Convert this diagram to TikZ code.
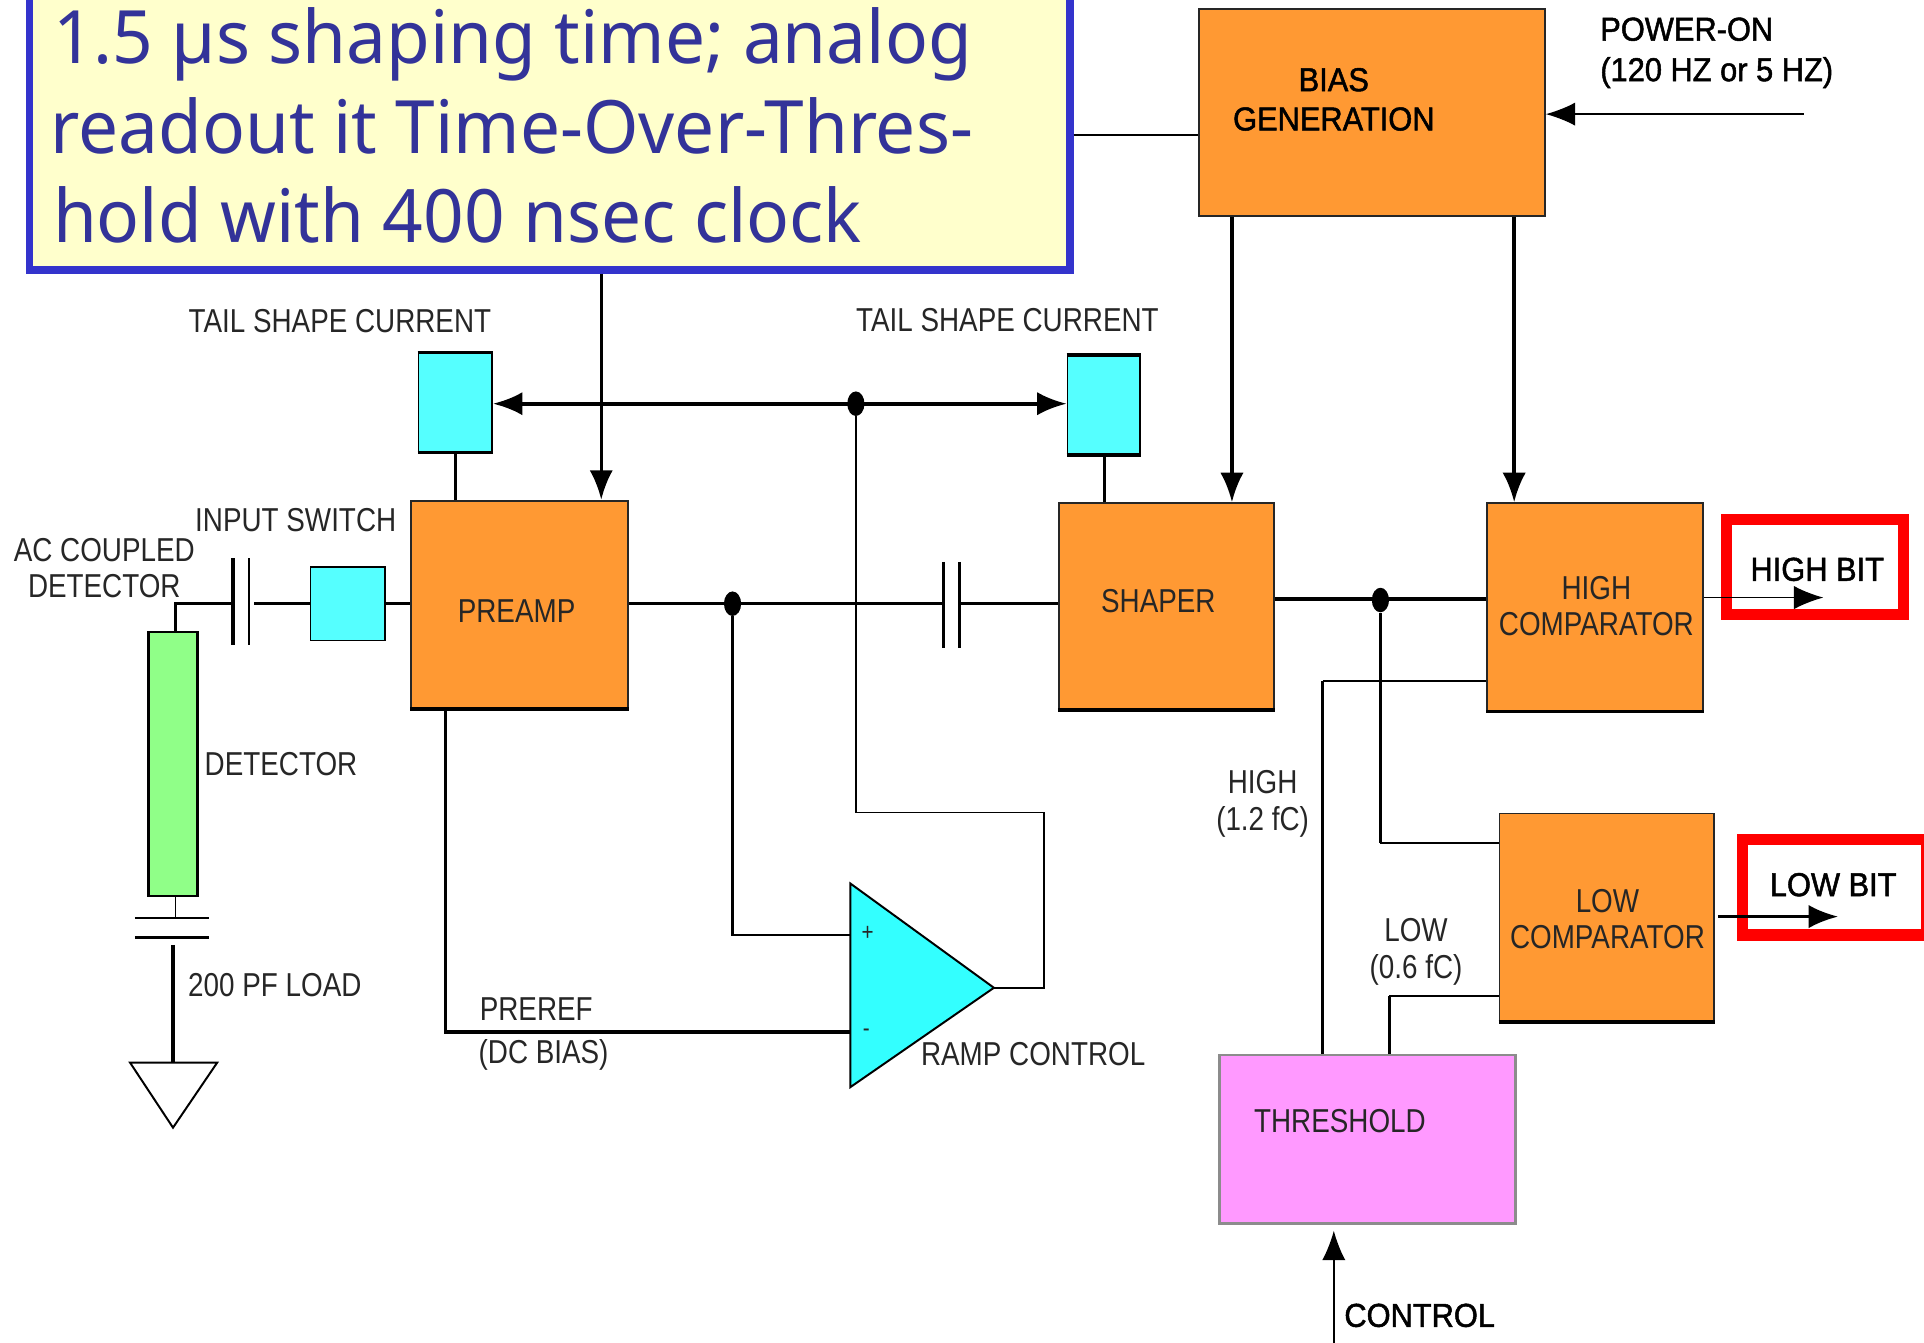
\documentclass[tikz,border=0pt]{standalone}
\usepackage{fontspec}
\usetikzlibrary{arrows.meta,shapes.geometric}
\setmainfont{Liberation Sans}
\newfontfamily\diafont[FakeStretch=0.84]{Liberation Sans}
\newfontfamily\diabold[FakeStretch=0.93,FakeBold=1.5]{Liberation Sans}
\newfontfamily\callfont[FakeStretch=0.966]{Noto Sans}
\definecolor{orangebox}{HTML}{FF9933}
\definecolor{cyanbox}{HTML}{55FFFF}
\definecolor{greenbox}{HTML}{90FF88}
\definecolor{pinkbox}{HTML}{FF99FF}
\definecolor{calloutfill}{HTML}{FFFFCC}
\definecolor{calloutline}{HTML}{3333CC}
\definecolor{callouttext}{HTML}{333399}
\definecolor{ampfill}{HTML}{33FFFF}
\tikzset{
  x=1pt,y=-1pt,
  block/.style={draw=black!85,line width=1.5pt,fill=orangebox,inner sep=0pt},
  small/.style={draw=black,line width=1.5pt,fill=cyanbox,inner sep=0pt},
  lab/.style={font=\diafont\fontsize{27}{30}\selectfont,text=black!85,align=center,inner sep=0pt},
  blab/.style={font=\diabold\fontsize{27}{30}\selectfont,text=black,align=center,inner sep=0pt},
  calltext/.style={anchor=base west,inner sep=0pt,font=\callfont\fontsize{60}{73}\selectfont,text=callouttext},
  thin wire/.style={draw=black,line width=1.3pt},
  wire/.style={draw=black,line width=2.8pt},
  bus/.style={draw=black,line width=3.2pt},
  heavy edge/.style={draw=black,line width=2.8pt},
  tip/.style={-{Latex[length=24pt,width=19pt]}},
  tips/.style={{Latex[length=24pt,width=19pt]}-{Latex[length=24pt,width=19pt]}},
  redbox/.style={draw=red,line width=9pt,fill=none,inner sep=0pt},
  joint/.style={ellipse,fill=black,minimum width=14pt,minimum height=20pt,inner sep=0pt},
}
\newcommand{\boxat}[7]{\node[#1,minimum width=#5pt-#3pt,minimum height=#6pt-#4pt,anchor=center] (#2) at ({(#3+#5)/2},{(#4+#6)/2}) {#7};}
\begin{document}
\begin{tikzpicture}
\useasboundingbox (0,0) rectangle (1568,1094.5);
% blocks
\boxat{block}{bias}{977}{7}{1259}{176}{}
\boxat{block}{preamp}{335}{408}{512}{577}{}
\boxat{block}{shaper}{863}{410}{1038}{578}{}
\boxat{block}{high}{1212}{410}{1388}{579}{}
\boxat{block}{low}{1222}{663}{1397}{832}{}
\boxat{block,draw=black!45,line width=2pt,fill=pinkbox}{thresh}{994}{860}{1235}{997}{}
\boxat{small}{tailL}{341}{288}{401}{368}{}
\boxat{small}{tailR}{870}{290}{929}{370}{}
\boxat{small}{switch}{253}{462}{314}{522}{}
\boxat{small,fill=greenbox,line width=2pt}{det}{121}{515}{161}{730}{}
\draw[heavy edge] (preamp.south west) -- (preamp.south east);
\draw[heavy edge] (shaper.south west) -- (shaper.south east);
\draw[heavy edge] (high.south west) -- (high.south east);
\draw[heavy edge] (low.south west) -- (low.south east);
\draw[heavy edge] (tailL.north west) -- (tailL.north east);
\draw[heavy edge] (tailL.south west) -- (tailL.south east);
\draw[heavy edge] (tailR.north west) -- (tailR.north east);
\draw[heavy edge] (tailR.south west) -- (tailR.south east);
% callout
\boxat{draw=calloutline,line width=6pt,fill=calloutfill,inner sep=0pt}{callout}{24}{-20}{872}{220}{}
\node[calltext] (callA) at (43,52) {1.5 µs shaping time; analog};
\node[calltext] (callB) at (41,125) {readout it Time-Over-Thres-};
\node[calltext] (callC) at (43,198) {hold with 400 nsec clock};
% red boxes
\boxat{redbox}{hibit}{1407}{423}{1551}{501}{}
\boxat{redbox}{lobit}{1420}{684}{1570}{762}{}
% helper coordinates
\coordinate (x490) at (490,0);
\coordinate (x1004) at (1004,0);
\coordinate (x1234) at (1234,0);
\coordinate (pwr) at (1470,93);
\coordinate (yb) at (0,110);
\coordinate (x371) at (371,0);
\coordinate (x900) at (900,0);
\coordinate (bus) at (0,329);
\node[joint] (jbus) at (697.5,329) {};
\node[joint] (jpre) at (597,492) {};
\node[joint] (jsh) at (1125,489) {};
% amplifier
\coordinate (ampa) at (693,720);
\coordinate (ampb) at (693,886);
\coordinate (ampout) at (810,805);
\coordinate (ampp) at (693,762);
\coordinate (ampm) at (693,841);
\draw[thin wire,line width=1.6pt,fill=ampfill] (ampa) -- (ampout) -- (ampb) -- cycle;
% wires from bias
\draw[thin wire] (callout.east |- yb) -- (bias.west |- yb);
\draw[thin wire,tip] (pwr) -- (bias.east |- pwr);
\draw[wire,tip] (bias.south -| x1004) -- (shaper.north -| x1004);
\draw[wire,tip] (bias.south -| x1234) -- (high.north -| x1234);
\draw[wire,tip] (callout.south -| x490) -- (preamp.north -| x490);
\draw[bus,tips] (tailL.east |- bus) -- (tailR.west |- bus);
\draw[wire] (tailL.south -| x371) -- (preamp.north -| x371);
\draw[wire] (tailR.south -| x900) -- (shaper.north -| x900);
\coordinate (fb) at (851,662);
\draw[thin wire] (jbus) -- (697.5,662) -- (fb) -- (851,805) -- (ampout);
% input
\coordinate (capa) at (190,492);
\coordinate (capb) at (207,492);
\draw[wire] (143,515) -- (143,492) -- (capa);
\draw[wire] (capb) -- (switch.west);
\draw[line width=3pt] (190,455) -- (190,526);
\draw[line width=1.5pt] (203,455) -- (203,526);
\draw[wire] (switch.east) -- (preamp.west |- switch.east);
% preamp to shaper
\coordinate (capc) at (769,492);
\coordinate (capd) at (782,492);
\draw[wire] (preamp.east |- capc) -- (capc);
\draw[line width=3pt] (769,458) -- (769,528);
\draw[line width=2pt] (782,458) -- (782,528);
\draw[wire] (capd) -- (shaper.west |- capd);
\draw[thin wire,line width=1.8pt] (jpre) -- (597,762) -- (ampp);
\draw[wire] (preamp.south -| 363,0) -- (363,841) -- (ampm);
% shaper out
\draw[wire] (shaper.east |- 0,488) -- (high.west |- 0,488);
\draw[wire,line width=2.2pt] (jsh) -- (1125,687);
\draw[thin wire,line width=1.6pt] (1125,687) -- (low.west |- 0,687);
\draw[wire,line width=2.4pt] (thresh.north -| 1078,0) -- (1078,555);
\draw[thin wire,line width=1.6pt] (1078,555) -- (high.west |- 0,555);
\draw[wire,line width=2.4pt] (thresh.north -| 1132,0) -- (1132,812);
\draw[thin wire,line width=1.6pt] (1132,812) -- (low.west |- 0,812);
\draw[thin wire,tip] (high.east |- 0,487) -- (1486,487);
\draw[wire,tip] (1400,747) -- (1498,747);
\coordinate (ctlend) at (1087,1003);
\draw[thin wire,tip] (1087,1094.5) -- (ctlend);
% detector stack
\draw[thin wire] (det.south -| 143,0) -- (143,748);
\draw[line width=1.3pt] (110,748) -- (170,748);
\draw[line width=3pt] (110,764) -- (170,764);
\draw[wire] (141,770) -- (141,866);
\draw[line width=1.6pt] (106,866) -- (177,866) -- (141,919) -- cycle;
% labels
\node[blab,font=\diabold\fontsize{27}{32}\selectfont] (tbias) at (1087,81) {BIAS\\GENERATION};
\node[blab,anchor=west,align=left,font=\diabold\fontsize{27}{33}\selectfont] (tpower) at (1304,43) {POWER-ON\\(120 HZ or 5 HZ)};
\node[lab] (ttaila) at (277,262) {TAIL SHAPE CURRENT};
\node[lab] (ttailb) at (821,261) {TAIL SHAPE CURRENT};
\node[lab] (tac) at (85,463) {AC COUPLED\\DETECTOR};
\node[lab] (tsw) at (241,424) {INPUT SWITCH};
\node[lab] (tpre) at (421,498) {PREAMP};
\node[lab] (tsha) at (944,490) {SHAPER};
\node[lab] (thi) at (1301,494) {HIGH\\COMPARATOR};
\node[lab] (tlo) at (1310,749) {LOW\\COMPARATOR};
\node[lab] (tthr) at (1092,914) {THRESHOLD};
\node[lab] (tdet) at (229,623) {DETECTOR};
\node[lab] (tload) at (224,803) {200 PF LOAD};
\node[lab] (tpref) at (437,822) {PREREF};
\node[lab] (tdc) at (443,860) {(DC BIAS)};
\node[lab,font=\diafont\fontsize{20}{24}\selectfont] (tplus) at (707,761) {+};
\node[lab,font=\diafont\fontsize{20}{24}\selectfont] (tminus) at (706,842) {-};
\node[lab] (tramp) at (842,859) {RAMP CONTROL};
\node[lab] (thv) at (1029,655) {HIGH\\(1.2 fC)};
\node[lab] (tlv) at (1154,776) {LOW\\(0.6 fC)};
\node[blab] (thb) at (1481,464) {HIGH BIT};
\node[blab] (tlb) at (1494,721) {LOW BIT};
\node[blab] (tcon) at (1157,1072) {CONTROL};
\end{tikzpicture}
\end{document}
